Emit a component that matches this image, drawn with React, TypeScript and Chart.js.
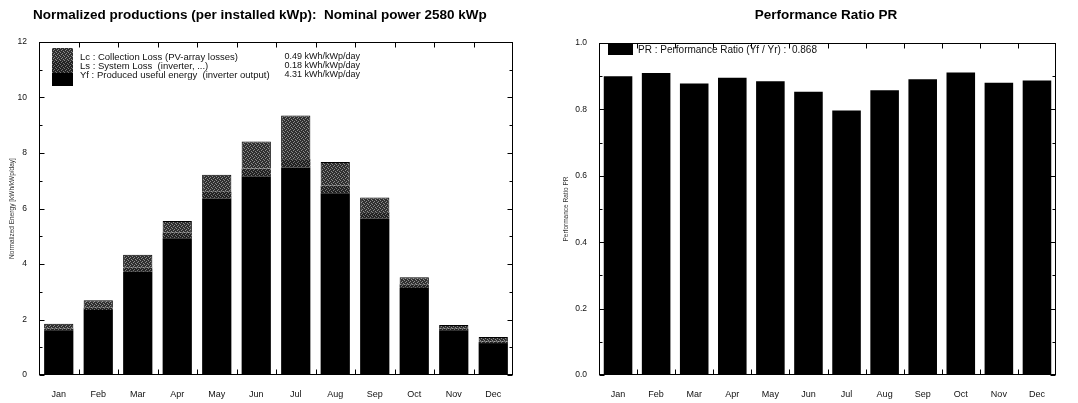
import React, { useEffect, useRef } from "react";
import { Chart, registerables } from "chart.js";

Chart.register(...registerables);

// ---------- data ----------
const months = ["Jan", "Feb", "Mar", "Apr", "May", "Jun", "Jul", "Aug", "Sep", "Oct", "Nov", "Dec"];
const yfValues = [1.61, 2.34, 3.72, 4.93, 6.36, 7.15, 7.48, 6.55, 5.64, 3.14, 1.61, 1.15];
const lsValues = [0.07, 0.10, 0.16, 0.21, 0.26, 0.29, 0.30, 0.27, 0.23, 0.13, 0.07, 0.05];
const lcValues = [0.17, 0.25, 0.45, 0.41, 0.60, 0.97, 1.57, 0.86, 0.53, 0.25, 0.12, 0.17];
const prValues = [0.900, 0.910, 0.878, 0.895, 0.885, 0.853, 0.797, 0.858, 0.891, 0.911, 0.880, 0.887];

const leftTitle = "Normalized productions (per installed kWp):  Nominal power 2580 kWp";
const rightTitle = "Performance Ratio PR";
const leftYTitle = "Normalized Energy [kWh/kWp/day]";
const rightYTitle = "Performance Ratio PR";
const leftLegendLabels = [
  "Lc : Collection Loss (PV-array losses)",
  "Ls : System Loss  (inverter, ...)",
  "Yf : Produced useful energy  (inverter output)",
];
const leftLegendValues = ["0.49 kWh/kWp/day", "0.18 kWh/kWp/day", "4.31 kWh/kWp/day"];
const rightLegendLabel = "PR : Performance Ratio (Yf / Yr) :  0.868";

const FONT = "'Liberation Sans', Arial, sans-serif";

function makeStipple(base: string, dot: string): CanvasPattern | string {
  const c = document.createElement("canvas");
  c.width = 4;
  c.height = 4;
  const g = c.getContext("2d");
  if (!g) return base;
  g.fillStyle = base;
  g.fillRect(0, 0, 4, 4);
  g.fillStyle = dot;
  g.fillRect(0, 0, 1, 1);
  g.fillRect(2, 1, 1, 1);
  g.fillRect(1, 2, 1, 1);
  g.fillRect(3, 3, 1, 1);
  const p = g.createPattern(c, "repeat");
  return p || base;
}

function frameTicksPlugin(id: string) {
  return {
    id,
    afterDatasetsDraw(chart: any) {
      const { ctx, chartArea: a, scales } = chart;
      ctx.save();
      ctx.strokeStyle = "#000";
      ctx.lineWidth = 1;
      const L = Math.round(a.left) + 0.5;
      const R = Math.round(a.right) - 0.5;
      const T = Math.round(a.top) + 0.5;
      const B = Math.round(a.bottom) - 0.5;
      ctx.strokeRect(L, T, R - L, B - T);
      const y = scales.y;
      ctx.beginPath();
      y.ticks.forEach((t: any) => {
        const py = Math.round(y.getPixelForValue(t.value)) + 0.5;
        const major = t.label !== "" && t.label !== undefined;
        const len = major ? 5 : 3;
        ctx.moveTo(L, py);
        ctx.lineTo(L + len, py);
        ctx.moveTo(R, py);
        ctx.lineTo(R - len, py);
      });
      const x = scales.x;
      const n = x.ticks.length;
      for (let i = 1; i < n; i++) {
        const px = Math.round((x.getPixelForTick(i - 1) + x.getPixelForTick(i)) / 2) + 0.5;
        ctx.moveTo(px, B);
        ctx.lineTo(px, B - 5);
        ctx.moveTo(px, T);
        ctx.lineTo(px, T + 5);
      }
      ctx.stroke();
      ctx.restore();
    },
  };
}

function LeftChart() {
  const ref = useRef<HTMLCanvasElement | null>(null);
  useEffect(() => {
    if (!ref.current) return;
    const lcFill = makeStipple("#303030", "#8c8c8c");
    const lsFill = makeStipple("#222222", "#747474");
    const overlay = {
      id: "leftOverlay",
      afterDraw(chart: any) {
        const ctx = chart.ctx;
        ctx.save();
        ctx.fillStyle = "#000";
        ctx.font = `bold 13.5px ${FONT}`;
        ctx.textBaseline = "middle";
        ctx.textAlign = "left";
        ctx.fillText(leftTitle, 33, 15);
        // legend boxes
        ctx.fillStyle = lcFill;
        ctx.fillRect(52, 48, 21, 13);
        ctx.fillStyle = lsFill;
        ctx.fillRect(52, 61, 21, 12);
        ctx.fillStyle = "#000";
        ctx.fillRect(52, 73, 21, 13);
        ctx.font = `9.5px ${FONT}`;
        ctx.fillStyle = "#111";
        const ys = [57, 66, 75];
        leftLegendLabels.forEach((s, i) => ctx.fillText(s, 80, ys[i]));
        ctx.font = `9px ${FONT}`;
        ctx.textAlign = "right";
        leftLegendValues.forEach((s, i) => ctx.fillText(s, 360, ys[i]));
        ctx.restore();
      },
    };
    const chart = new Chart(ref.current, {
      type: "bar",
      data: {
        labels: months,
        datasets: [
          { label: "Yf", data: yfValues, backgroundColor: "#000", borderWidth: 0 },
          { label: "Ls", data: lsValues, backgroundColor: lsFill as any, borderWidth: 0 },
          {
            label: "Lc",
            data: lcValues,
            backgroundColor: lcFill as any,
            borderColor: "#000",
            borderWidth: { top: 1, left: 1, right: 1, bottom: 0 } as any,
          },
        ],
      },
      options: {
        animation: false,
        responsive: false,
        devicePixelRatio: 1,
        layout: { padding: { top: 42, right: 27, left: 0, bottom: 0 } },
        datasets: { bar: { categoryPercentage: 1, barPercentage: 0.74 } },
        plugins: { legend: { display: false }, tooltip: { enabled: false }, title: { display: false } },
        scales: {
          x: {
            stacked: true,
            grid: { display: false },
            border: { display: false },
            ticks: { color: "#111", font: { size: 9, family: FONT }, padding: 6, maxRotation: 0, autoSkip: false },
            afterFit: (s: any) => {
              s.height = 28;
            },
          },
          y: {
            stacked: true,
            min: 0,
            max: 12,
            grid: { display: false },
            border: { display: false },
            ticks: {
              stepSize: 1,
              autoSkip: false,
              color: "#111",
              padding: 4,
              font: { size: 8.5, family: FONT },
              callback: (v: any) => (Number(v) % 2 === 0 ? String(v) : ""),
            },
            title: {
              display: true,
              text: leftYTitle,
              color: "#333",
              font: { size: 6.5, family: FONT },
              padding: { top: 8, bottom: 0 },
            },
            afterFit: (s: any) => {
              s.width = 39;
            },
          },
        },
      },
      plugins: [frameTicksPlugin("leftFrame"), overlay],
    });
    return () => chart.destroy();
  }, []);
  return <canvas ref={ref} width={540} height={403} style={{ position: "absolute", left: 0, top: 0 }} />;
}

function RightChart() {
  const ref = useRef<HTMLCanvasElement | null>(null);
  useEffect(() => {
    if (!ref.current) return;
    const overlay = {
      id: "rightOverlay",
      afterDraw(chart: any) {
        const ctx = chart.ctx;
        ctx.save();
        ctx.fillStyle = "#000";
        ctx.font = `bold 13.5px ${FONT}`;
        ctx.textBaseline = "middle";
        ctx.textAlign = "center";
        ctx.fillText(rightTitle, 286, 15);
        ctx.fillRect(68, 44, 25, 11);
        ctx.textAlign = "left";
        ctx.font = `10px ${FONT}`;
        ctx.fillStyle = "#111";
        ctx.fillText(rightLegendLabel, 98, 50);
        ctx.restore();
      },
    };
    const chart = new Chart(ref.current, {
      type: "bar",
      data: {
        labels: months,
        datasets: [{ label: "PR", data: prValues, backgroundColor: "#000", borderWidth: 0 }],
      },
      options: {
        animation: false,
        responsive: false,
        devicePixelRatio: 1,
        layout: { padding: { top: 43, right: 22, left: 0, bottom: 0 } },
        datasets: { bar: { categoryPercentage: 1, barPercentage: 0.75 } },
        plugins: { legend: { display: false }, tooltip: { enabled: false }, title: { display: false } },
        scales: {
          x: {
            grid: { display: false },
            border: { display: false },
            ticks: { color: "#111", font: { size: 9, family: FONT }, padding: 6, maxRotation: 0, autoSkip: false },
            afterFit: (s: any) => {
              s.height = 28;
            },
          },
          y: {
            min: 0,
            max: 1,
            grid: { display: false },
            border: { display: false },
            ticks: {
              stepSize: 0.1,
              autoSkip: false,
              color: "#111",
              padding: 4,
              font: { size: 8.5, family: FONT },
              callback: (v: any) => (Math.round(Number(v) * 10) % 2 === 0 ? Number(v).toFixed(1) : ""),
            },
            title: {
              display: true,
              text: rightYTitle,
              color: "#333",
              font: { size: 6.5, family: FONT },
              padding: { top: 22, bottom: 0 },
            },
            afterFit: (s: any) => {
              s.width = 59;
            },
          },
        },
      },
      plugins: [frameTicksPlugin("rightFrame"), overlay],
    });
    return () => chart.destroy();
  }, []);
  return <canvas ref={ref} width={538} height={403} style={{ position: "absolute", left: 540, top: 0 }} />;
}

export default function App() {
  return (
    <div style={{ position: "absolute", left: 0, top: 0, width: 1078, height: 403, background: "#fff" }}>
      <LeftChart />
      <RightChart />
    </div>
  );
}
